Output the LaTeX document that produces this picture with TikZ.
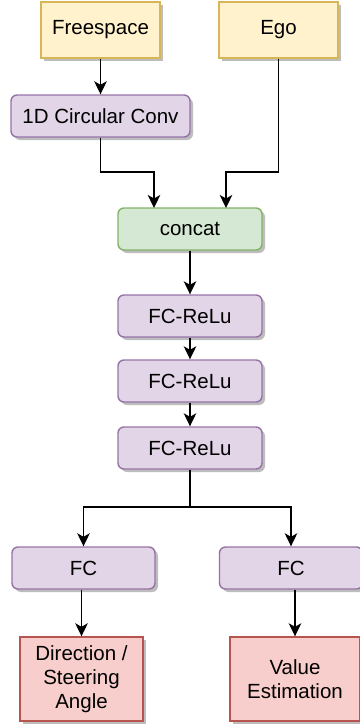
\documentclass[tikz,border=0pt]{standalone}
\usepackage{fontspec}
\setmainfont{Liberation Sans}
\usetikzlibrary{arrows.meta,shadows}
\definecolor{ylfill}{HTML}{FFF2CC}\definecolor{ylline}{HTML}{D6B656}
\definecolor{pufill}{HTML}{E1D5E7}\definecolor{puline}{HTML}{9673A6}
\definecolor{grfill}{HTML}{D5E8D4}\definecolor{grline}{HTML}{82B366}
\definecolor{rdfill}{HTML}{F8CECC}\definecolor{rdline}{HTML}{B85450}
\definecolor{shade}{HTML}{BDBDBD}
\begin{document}
\begin{tikzpicture}[x=1pt,y=-1pt,
  box/.style={draw, line width=1.4pt, inner sep=0pt, align=center,
    font=\fontsize{20.5}{24}\selectfont,
    drop shadow={shadow xshift=3pt, shadow yshift=-3pt, fill=shade, opacity=1}},
  inbox/.style={box, fill=ylfill, draw=ylline, minimum width=119pt, minimum height=56pt},
  layer/.style={box, fill=pufill, draw=puline, rounded corners=6pt, minimum width=144pt, minimum height=42pt},
  joinbox/.style={box, fill=grfill, draw=grline, rounded corners=6pt, minimum width=144pt, minimum height=42pt},
  outbox/.style={box, fill=rdfill, draw=rdline, minimum height=84pt},
  link/.style={draw, line width=1.7pt, -{Stealth[length=13pt, width=12.5pt, inset=3.5pt]}},
  wire/.style={draw, line width=1.7pt}]
\useasboundingbox (0,0) rectangle (359,728);
% inputs
\node[inbox] (free) at (100.5,30) {Freespace};
\node[inbox] (ego) at (278.5,30) {Ego};
% encoder and merge
\node[layer, minimum width=179pt] (conv) at (100.5,116) {1D Circular Conv};
\node[joinbox] (cat) at (190,229) {concat};
% fully connected trunk
\node[layer] (fc1) at (190,316) {FC-ReLu};
\node[layer] (fc2) at (190,381) {FC-ReLu};
\node[layer] (fc3) at (190,448) {FC-ReLu};
% heads
\node[layer, minimum width=143pt] (fcl) at (83.5,568) {FC};
\node[layer, minimum width=143pt] (fcr) at (291,568) {FC};
\node[outbox, minimum width=123pt] (dir) at (81.5,679) {Direction /\\Steering\\Angle};
\node[outbox, minimum width=130pt] (val) at (295,679) {Value\\Estimation};
% connectors
\coordinate (catl) at (154,208);
\coordinate (catr) at (226,208);
\coordinate (split) at (190,507);
\path[link] (free) -- (conv);
\path[link] (conv.south) |- (127,172) -| (catl);
\path[link] (ego.south) |- (250,172) -| (catr);
\path[link] (cat) -- (fc1);
\path[link] (fc1) -- (fc2);
\path[link] (fc2) -- (fc3);
\path[wire] (fc3.south) -- (split);
\path[link] (split) -| (fcl.north);
\path[link] (split) -| (fcr.north);
\path[link] (dir.north |- fcl.south) -- (dir.north);
\path[link] (val.north |- fcr.south) -- (val.north);
\end{tikzpicture}
\end{document}
